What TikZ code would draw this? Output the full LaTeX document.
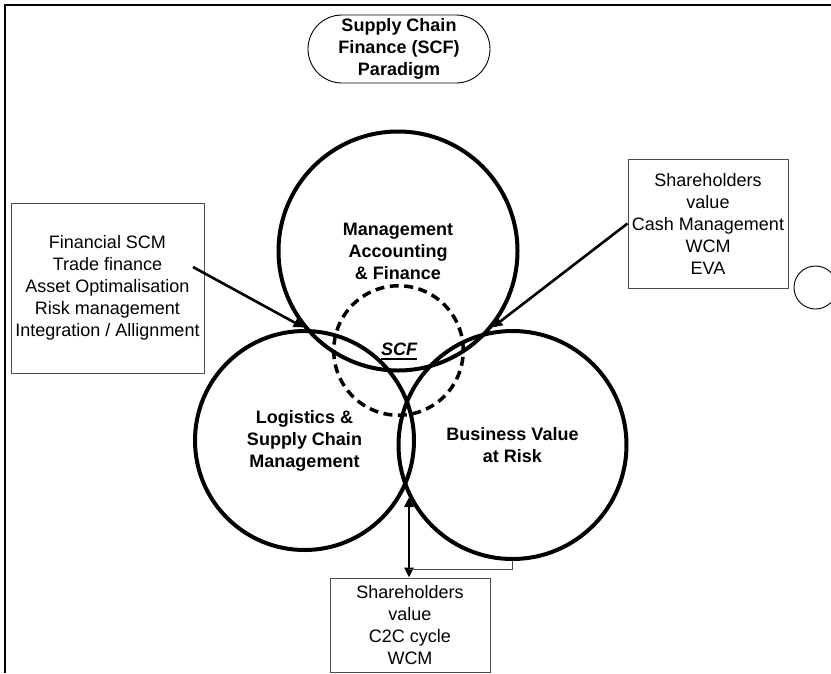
\documentclass[tikz,border=0pt]{standalone}
\usepackage{fontspec}
\setmainfont{Liberation Sans}
\usetikzlibrary{shapes.misc,arrows.meta}

\begin{document}
\begin{tikzpicture}[x=1pt,y=-1pt,
  topic/.style={circle, draw, line width=4pt, inner sep=0pt, align=center,
    font=\bfseries\fontsize{18}{22}\selectfont},
  infobox/.style={draw=black!70, line width=1pt, inner sep=0pt, align=center,
    font=\fontsize{18}{22}\selectfont},
  link/.style={line width=2.6pt, -{Triangle[length=10pt,width=9pt]}},
  dlink/.style={line width=2.6pt, {Triangle[length=10pt,width=9pt]}-{Triangle[length=10pt,width=9pt]}},
  thinlink/.style={draw=black!70, line width=1pt},
]
\useasboundingbox (0,0) rectangle (831,673);

% page frame (top and left rules)
\draw[line width=2pt] (831,5) -- (5,5) -- (5,673);

% title
\node[rounded rectangle, draw, line width=0.9pt, minimum width=182pt,
      minimum height=68pt, inner sep=0pt, align=center,
      font=\bfseries\fontsize{18}{22}\selectfont] (title) at (399,49)
  {Supply Chain\\Finance (SCF)\\Paradigm};

% the three overlapping domains
\node[topic, minimum size=239pt] (mgmt) at (398,251)
  {Management\\Accounting\\\& Finance};
\node[topic, minimum size=219pt] (logi) at (304.5,440.5)
  {Logistics \&\\Supply Chain\\Management};
\node[topic, minimum size=228pt] (biz) at (512.5,445)
  {Business Value\\at Risk};

% SCF core
\node[circle, draw, line width=3.5pt, dash pattern=on 9pt off 5.5pt,
      minimum size=129.5pt, inner sep=0pt] (core) at (398.5,350.5) {};
\node[anchor=base, inner sep=0pt, font=\bfseries\itshape\fontsize{18}{22}\selectfont]
  (scf) at (399,355) {SCF};
\draw[line width=2pt] ([yshift=-3.5pt]scf.base west) -- ([yshift=-3.5pt]scf.base east);

% description boxes
\node[infobox, minimum width=193pt, minimum height=170pt] (lbox) at (107.5,288)
  {Financial SCM\\Trade finance\\Asset Optimalisation\\Risk management\\Integration / Allignment};
\node[infobox, minimum width=160pt, minimum height=129pt] (rbox) at (708,223.5)
  {Shareholders\\value\\Cash Management\\WCM\\EVA};
\node[infobox, minimum width=160pt, minimum height=94pt] (bbox) at (410,625)
  {Shareholders\\value\\C2C cycle\\WCM};

% small ring at the right margin
\node[circle, draw, line width=0.9pt, minimum size=43pt, inner sep=0pt]
  (sidering) at (815.5,287.5) {};

% connectors
\coordinate (lstart) at (193,267);
\coordinate (lowtip) at (409,497);
\coordinate (elbow) at (409,569);
\draw[link] (lstart) -- (mgmt.219);
\draw[link] (rbox.west) -- (mgmt.321);
\draw[dlink] (lowtip |- bbox.north) -- (lowtip);
\draw[thinlink] (biz.south) |- (elbow);
\end{tikzpicture}
\end{document}
